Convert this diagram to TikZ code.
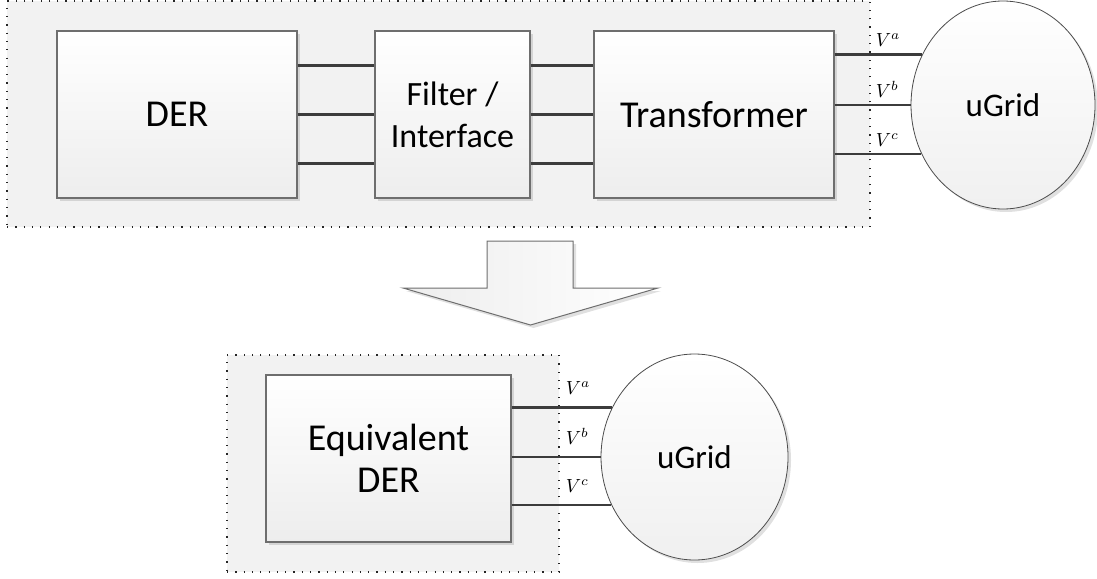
\documentclass[tikz,border=0pt]{standalone}
\usepackage{graphicx}
\usepackage{fontspec}
\setmainfont{Carlito}
\usetikzlibrary{shapes.geometric,shadows}
\definecolor{regionfill}{HTML}{F2F2F2}
\definecolor{edgegray}{HTML}{6E6E6E}
\definecolor{wiregray}{HTML}{3C3C3C}
\newcommand{\phasev}[1]{\scalebox{1.9}{$V^{#1}$}}
\tikzset{
  region/.style={draw=black!85, fill=regionfill, line width=1.2pt,
    dash pattern=on 1.2pt off 7.1pt, inner sep=0pt},
  softshadow/.style={drop shadow={shadow xshift=3pt, shadow yshift=-3pt,
    fill=black, opacity=0.12}},
  blockbox/.style={draw=edgegray, line width=1.2pt, top color=white,
    bottom color=black!7, softshadow, inner sep=0pt, align=center,
    font=\fontsize{38}{42}\selectfont},
  gridnode/.style={ellipse, draw=black!70, line width=0.8pt, top color=white,
    bottom color=black!6, softshadow, inner sep=0pt,
    font=\fontsize{33}{40}\selectfont},
  wire/.style={draw=wiregray, line width=2.2pt},
  vlab/.style={font=\fontsize{10}{12}\selectfont, inner sep=0pt, anchor=base west},
  bigarrow/.style={draw=edgegray, line width=1pt, left color=black!7,
    right color=white, softshadow}
}
\begin{document}
\begin{tikzpicture}[x=1pt,y=-1pt]
\useasboundingbox (0,0) rectangle (1097,578);

% dotted regions
\node[region, minimum width=863pt, minimum height=226pt] (upper) at (438.5,114) {};
\node[region, minimum width=332pt, minimum height=217pt] (lower) at (393,463.5) {};

% upper chain
\node[blockbox, minimum width=240pt, minimum height=167pt] (der) at (177,114.5) {DER};
\node[blockbox, minimum width=155pt, minimum height=167pt,
      font=\fontsize{34}{42}\selectfont] (filter) at (452.5,114.5) {Filter /\\Interface};
\node[blockbox, minimum width=240pt, minimum height=167pt] (trans) at (714,114.5) {Transformer};
\node[gridnode, minimum width=184pt, minimum height=208pt] (grid) at (1003,105) {uGrid};

\foreach \dy in {49,0,-49}{
  \draw[wire] ([yshift=\dy pt]der.east) -- ([yshift=\dy pt]filter.west);
  \draw[wire] ([yshift=\dy pt]filter.east) -- ([yshift=\dy pt]trans.west);
}
\foreach \ang/\ph in {148.87/a, 180/b, 211.13/c}{
  \draw[wire] (trans.east |- grid.\ang) -- (grid.\ang);
  \node[vlab, xshift=5pt, yshift=8pt] at (upper.east |- grid.\ang) {\phasev{\ph}};
}

% reduction arrow
\draw[bigarrow] (487,241) -- (573,241) -- (573,288) -- (658,288) -- (530.5,325)
  -- (403,288) -- (487,288) -- cycle;

% equivalent model
\node[blockbox, minimum width=245pt, minimum height=167pt] (eqder) at (388.5,458.5) {Equivalent\\DER};
\node[gridnode, minimum width=187pt, minimum height=206pt] (grid2) at (694.5,457) {uGrid};

\foreach \ang/\ph in {149.2/a, 180/b, 210.8/c}{
  \draw[wire] (eqder.east |- grid2.\ang) -- (grid2.\ang);
  \node[vlab, xshift=6pt, yshift=13pt] at (lower.east |- grid2.\ang) {\phasev{\ph}};
}
\end{tikzpicture}
\end{document}
